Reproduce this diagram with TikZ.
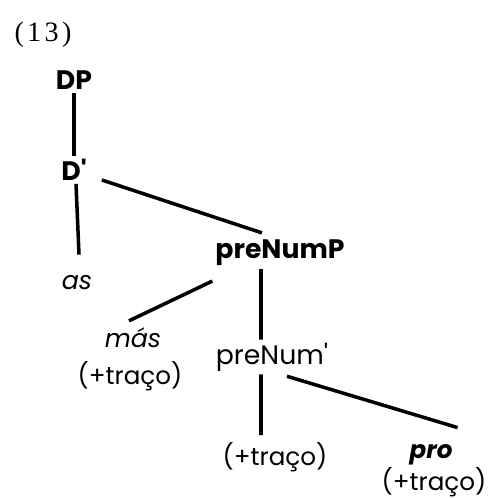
\documentclass[tikz,border=0pt]{standalone}
\usepackage{fontspec}
\setmainfont{Poppins}
\newfontfamily\numfont[LetterSpace=12]{Liberation Serif}
\begin{document}
\begin{tikzpicture}[inner sep=1pt, line width=2.5pt]
    \tikzset{
        cat/.style={font=\fontsize{19}{22}\selectfont\bfseries},
        bar/.style={font=\fontsize{19}{22}\selectfont},
        word/.style={font=\fontsize{18}{21}\selectfont\itshape},
        feat/.style={font=\fontsize{17.5}{21}\selectfont}
    }
    \useasboundingbox (0,0) rectangle (12.225,12.45);

    % Example number
    \node[font=\numfont\fontsize{20}{24}\selectfont] (num) at (1.075,11.575) {(13)};

    % Determiner projection
    \node[cat] (dp) at (1.85,10.45) {DP};
    \node[cat] (dbar) at (1.85,8.2) {D\textquotesingle};
    \node[word] (as) at (1.925,5.375) {as};

    % preNum projection
    \node[cat] (prenump) at (7.0,6.125) {preNumP};
    \node[word] (mas) at (3.325,4.0) {más};
    \node[feat] (trA) at (3.25,3.05) {(+traço)};
    \node[bar] (prenum) at (6.8,3.525) {preNum\textquotesingle};
    \node[feat] (trB) at (6.875,1.025) {(+traço)};
    \node[word, font=\fontsize{17.5}{21}\selectfont\bfseries\itshape] (pro) at (10.775,1.075) {pro};
    \node[feat] (trC) at (10.85,0.4) {(+traço)};

    % Branches
    \draw (dp.south) -- (dbar.north);
    \draw ([xshift=0.05cm]dbar.south) -- ([xshift=0.05cm, yshift=0.45cm]as.north);
    \draw ([xshift=0.3cm, yshift=-0.25cm]dbar.east) -- ([xshift=-0.45cm, yshift=0.1cm]prenump.north);
    \draw ([yshift=-0.3cm]prenump.south west) -- ([xshift=-0.1cm, yshift=0.1cm]mas.north);
    \draw ([xshift=-0.475cm]prenump.south) -- ([xshift=-0.275cm]prenum.north);
    \draw ([xshift=-0.275cm]prenum.south) -- ([xshift=-0.35cm, yshift=0.1cm]trB.north);
    \draw ([xshift=0.375cm, yshift=-0.05cm]prenum.south) -- ([xshift=0.05cm, yshift=0.35cm]pro.north east);
\end{tikzpicture}
\end{document}
